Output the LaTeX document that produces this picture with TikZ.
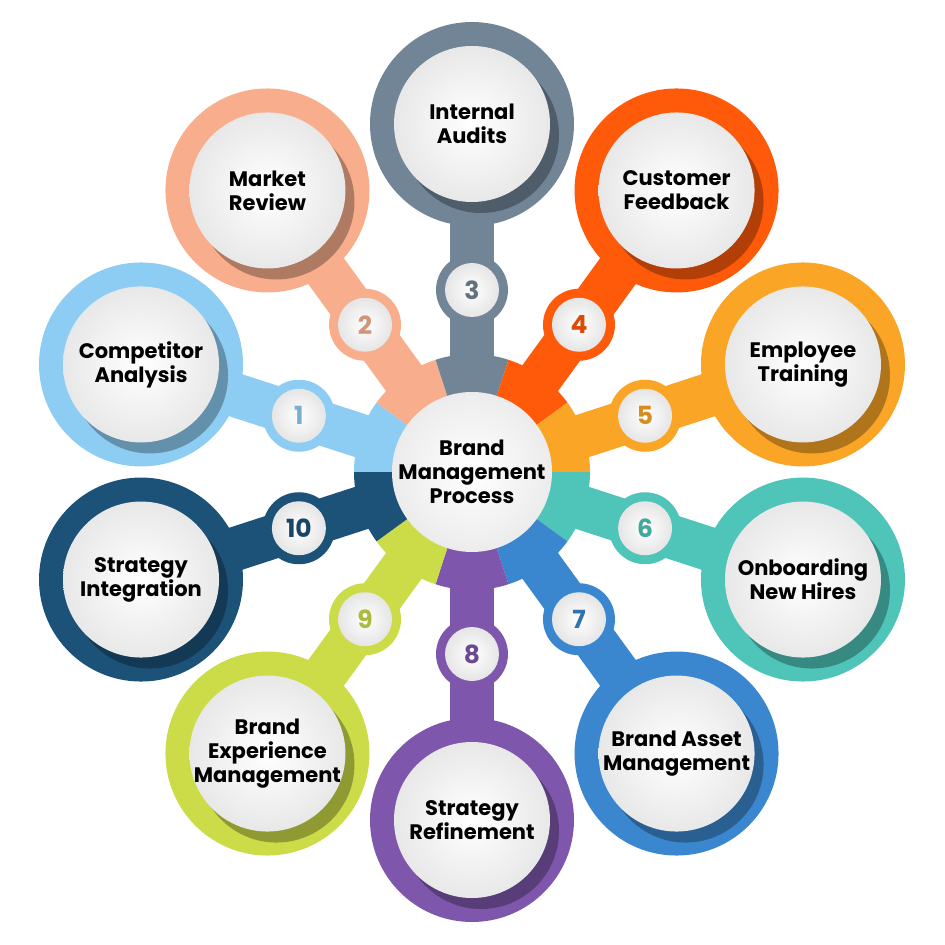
\documentclass[tikz,border=0pt]{standalone}
\usepackage{fontspec}
\setmainfont{Poppins}
\usetikzlibrary{calc}
\begin{document}
\begin{tikzpicture}[x=1pt,y=1pt,
  lbl/.style={font=\bfseries\fontsize{21}{24}\selectfont, align=center, text=black},
  num/.style={font=\bfseries\fontsize{25}{27}\selectfont}]
\useasboundingbox (-472,-473) rectangle (473,472);
\definecolor{c1}{HTML}{8ECDF3}\definecolor{c2}{HTML}{F8AE8C}
\definecolor{c3}{HTML}{718597}\definecolor{c4}{HTML}{FF5A0A}
\definecolor{c5}{HTML}{FBA526}\definecolor{c6}{HTML}{4EC5B8}
\definecolor{c7}{HTML}{3A87CF}\definecolor{c8}{HTML}{7E57AC}
\definecolor{c9}{HTML}{CCDC48}\definecolor{c10}{HTML}{1C5278}
\coordinate (o) at (0,0);
\foreach \n/\a in {1/162,2/126,3/90,4/54,5/18,6/-18,7/-54,8/-90,9/-126,10/-162}{
  \fill[c\n] (0,0) -- (\a-18:118) arc[start angle=\a-18,end angle=\a+18,radius=118] -- cycle;
}
\foreach \n/\a/\t in {1/162/{Competitor\\Analysis},2/126/{Market\\Review},3/90/{Internal\\Audits},4/54/{Customer\\Feedback},5/18/{Employee\\Training},6/-18/{Onboarding\\New Hires},7/-54/{Brand Asset\\Management},8/-90/{Strategy\\Refinement},9/-126/{Brand\\Experience\\Management},10/-162/{Strategy\\Integration}}{
  \coordinate (p\n) at (\a:348);
  \coordinate (q\n) at (\a:182);
  \draw[c\n, line width=44pt] (\a:100) -- (p\n);
  \fill[c\n] (p\n) circle (102);
  \fill[c\n!70!black] ($(p\n)+(9,-11)$) circle (78);
  \shade[inner color=white, outer color=gray!18] (p\n) circle (78);
  \node[lbl] (t\n) at (p\n) {\t};
  \fill[c\n] (q\n) circle (36);
  \shade[inner color=white, outer color=gray!20] (q\n) circle (27);
  \node[num, text=c\n!85!black] (n\n) at (q\n) {\n};
}
\shade[inner color=white, outer color=gray!15] (0,0) circle (80);
\node[lbl] (c) at (o) {Brand\\Management\\Process};
\end{tikzpicture}
\end{document}
